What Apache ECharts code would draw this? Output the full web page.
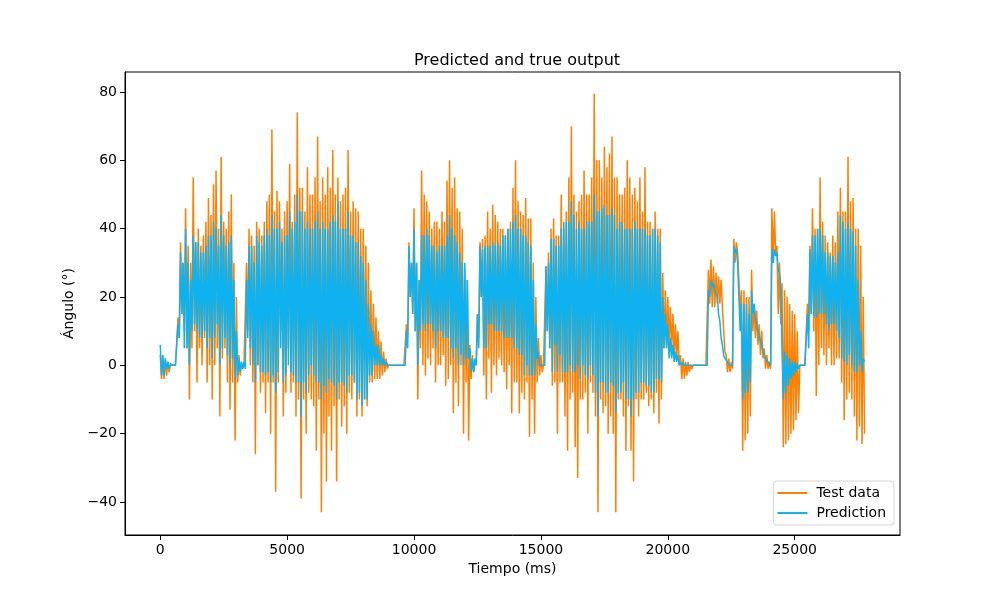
<!DOCTYPE html>
<html>
<head>
<meta charset="utf-8">
<script src="https://cdn.jsdelivr.net/npm/echarts@6/dist/echarts.min.js"></script>
<style>html,body{margin:0;padding:0;background:#fff;}#c{width:1000px;height:600px;}</style>
</head>
<body>
<div id="c"></div>
<script>
// Each 100 ms slot of the recording holds one upper and one lower swing
// of the fast oscillation (upper at the slot start, lower 50 ms later).
const slotMs = 100;

// Test data (true angle, degrees): upper swings
const testHigh = [
  3, 2, 2, 1, 0, 0, 0, 14, 36, 30,
  46, 35, 30, 55, 36, 40, 35, 38, 42, 49,
  44, 53, 57, 40, 61, 42, 40, 45, 50, 30,
  20, 3, 1, 0, 30, 40, 38, 35, 42, 40,
  38, 42, 48, 50, 69, 45, 51, 48, 40, 45,
  48, 59, 42, 50, 74, 52, 52, 45, 58, 50,
  50, 55, 67, 48, 55, 50, 58, 52, 63, 50,
  55, 48, 50, 52, 63, 45, 48, 46, 45, 40,
  40, 35, 30, 22, 18, 14, 10, 7, 4, 2,
  0, 0, 0, 0, 0, 0, 0, 12, 36, 30,
  46, 30, 25, 57, 50, 48, 45, 40, 42, 42,
  40, 45, 42, 54, 60, 52, 55, 46, 45, 40,
  28, 25, 6, 3, 1, 15, 36, 37, 38, 45,
  40, 47, 44, 42, 40, 40, 38, 40, 42, 52,
  60, 48, 45, 44, 49, 43, 43, 30, 20, 8,
  3, 0, 29, 33, 40, 43, 38, 38, 50, 40,
  45, 55, 70, 50, 45, 48, 50, 57, 50, 50,
  55, 79.5, 60, 60, 55, 64, 58, 62, 67, 55,
  55, 50, 50, 52, 60, 55, 50, 52, 48, 55,
  45, 58, 42, 42, 40, 45, 40, 40, 27, 22,
  20, 17, 15, 12, 10, 3, 2, 1, 1, 0,
  0, 0, 0, 0, 0, 0, 28, 31, 29, 27,
  26, 25, 10, 3, 2, 1, 37, 36, 25, 22,
  22, 20, 20, 28, 18, 16, 12, 10, 5, 3,
  1, 46, 45, 35, 30, 24, 22, 20, 18, 16,
  15, 10, 0, 0, 0, 18, 35, 46, 40, 40,
  55, 42, 38, 36, 33, 38, 36, 45, 52, 45,
  45, 61, 48, 49, 40, 40, 35, 20
];
// Test data: lower swings
const testLow = [
  -4, -4, -3, -2, 0, 0, 0, 8, 15, 10,
  5, -10, 5, 10, -5, 5, 0, 8, -5, 0,
  -10, 0, 5, -15, 2, 5, -5, -13, -5, -22,
  -5, -3, -1, 0, 10, 0, -5, -26, 0, -8,
  -5, -14, -5, -20, -5, -37, -5, 10, -15, -8,
  5, -8, -5, -15, -10, -39, -10, -20, -8, -10,
  -12, -25, -10, -43, -20, -34, -15, -25, -12, -34,
  -10, -18, -12, -20, -8, -10, -5, -15, -10, -15,
  -10, -12, -5, -5, -4, -4, -4, -3, -2, -1,
  0, 0, 0, 0, 0, 0, 0, 8, 20, 15,
  10, -10, 5, 0, -3, 2, 0, 5, -5, 0,
  0, 3, -6, -4, 0, -14, -5, -12, 0, -20,
  -5, -22, -4, -2, 0, 8, 20, -3, -10, 2,
  -8, 0, -3, 2, 0, -2, -7, 0, -14, -5,
  -5, -14, -8, -10, -5, -21, -10, -20, -5, -3,
  -2, 0, 10, 5, -6, -5, -20, -5, -5, -15,
  -25, -10, -8, -24, -33, -10, -10, -8, -20, -5,
  -8, -15, -43, -10, -14, -12, -20, -15, -20, -43,
  -10, -10, -15, -25, -12, -25, -34, -10, -15, -10,
  -10, -8, -12, -10, -14, -8, -17, -10, 5, 5,
  5, 5, 2, 2, 0, -4, -4, -3, -2, -1,
  0, 0, 0, 0, 0, 0, 18, 17, 17, 18,
  18, 17, 4, -2, -2, -1, 30, 33, 15, -25,
  -22, -20, -15, 10, 8, 6, 3, 2, -1, -1,
  -1, 30, 32, 15, 12, -24, -23, -22, -20, -19,
  -16, -14, 0, 0, 0, 10, 15, 10, -9, 0,
  5, 3, 0, 5, 0, 0, 2, 2, -5, -16,
  -10, -8, -10, -15, -22, -18, -23, -20
];

// Prediction (model output, degrees): upper swings
const predHigh = [
  6, 3, 2, 1, 0.5, 0, 0, 12, 33, 30,
  40, 30, 25, 38, 36, 36, 33, 33, 35, 38,
  38, 42, 40, 35, 44, 38, 35, 36, 38, 25,
  10, 2, 1, 1, 25, 35, 35, 30, 38, 36,
  35, 38, 40, 38, 44, 40, 40, 42, 36, 38,
  38, 45, 40, 42, 50, 45, 45, 40, 42, 40,
  40, 42, 45, 40, 42, 40, 40, 42, 44, 42,
  48, 40, 40, 40, 45, 38, 38, 36, 36, 32,
  30, 25, 18, 12, 10, 6, 6, 3, 2, 1,
  0, 0, 0, 0, 0, 0, 0, 10, 35, 30,
  40, 30, 25, 38, 38, 40, 38, 35, 35, 33,
  35, 35, 35, 38, 44, 40, 38, 36, 33, 30,
  30, 25, 5, 2, 2, 15, 35, 34, 35, 35,
  35, 36, 35, 36, 35, 38, 38, 40, 40, 42,
  44, 40, 40, 38, 38, 36, 35, 25, 12, 4,
  0, 0, 29, 30, 37, 37, 35, 35, 40, 42,
  42, 42, 48, 44, 40, 42, 40, 40, 42, 42,
  42, 50, 45, 45, 46, 47, 44, 44, 46, 44,
  40, 42, 42, 40, 40, 40, 40, 42, 40, 40,
  40, 40, 38, 38, 40, 40, 38, 36, 20, 15,
  12, 8, 6, 4, 3, 1, 1, 0, 0, 0,
  0, 0, 0, 0, 0, 0, 22, 25, 24, 22,
  15, 8, 3, 2, 1, 0.5, 35, 34, 20, 18,
  18, 18, 15, 22, 18, 14, 10, 6, 3, 2,
  1, 34, 34, 33, 27, 5, 4, 3, 2, 1,
  1, 0.5, 0, 0, 0, 15, 34, 38, 38, 40,
  40, 38, 33, 33, 32, 32, 30, 33, 44, 42,
  40, 42, 40, 39, 35, 25, 10, 2
];
// Prediction: lower swings
const predLow = [
  -3, -3, -1, -1, 0, 0, 0, 8, 15, 5,
  5, 0, 10, 12, 10, 8, 8, 10, 5, 8,
  2, 8, 12, 0, 5, 8, 3, 0, 2, -4,
  -3, -2, -1, -1, 8, 5, 0, -5, 0, -2,
  -2, -3, -2, -5, -3, -8, -2, 5, -5, -3,
  0, -2, -3, -5, -5, -15, -5, -8, -3, 0,
  -3, -5, -5, -10, -6, -8, -4, -5, -6, -10,
  -5, -5, -6, -8, -3, -3, -5, -10, -8, -12,
  -10, -10, -3, -3, 0, 0, 0, 0, 0, 0,
  0, 0, 0, 0, 0, 0, 0, 5, 20, 15,
  10, 0, 10, 12, 10, 12, 12, 10, 5, 10,
  10, 8, 8, 8, 5, 2, 5, 0, 3, 0,
  2, 2, -2, -2, 0, 5, 20, 5, 5, 12,
  12, 10, 10, 10, 10, 8, 8, 8, 8, 5,
  5, 3, 3, -3, 0, -3, -3, -3, 2, 0,
  0, 0, 10, 5, -2, 6, -2, 3, -2, -2,
  -2, 0, -2, -2, 0, -4, 0, -3, -4, 0,
  -3, -8, -15, -5, -5, -8, -8, -5, -6, -14,
  -8, -8, -5, -10, -10, -15, -10, -8, -8, -5,
  -5, -6, -6, -8, -8, -4, -4, -5, 5, 5,
  2, 2, 1, 1, 0, 0, 0, 0, 0, 0,
  0, 0, 0, 0, 0, 0, 20, 23, 22, 20,
  13, 6, 2, 1, 0, 0, 33, 30, 10, -10,
  -8, -8, -5, 15, 14, 10, 7, 4, 2, 1,
  0, 30, 32, 28, 23, -10, -8, -6, -4, -3,
  -2, -1, 0, 0, 0, 5, 15, 14, 14, 15,
  15, 15, 12, 10, 12, 12, 10, 8, 2, 1,
  0, 3, 0, -2, -2, 0, -2, 1
];

// Tick labels
const xTicks = [0, 5000, 10000, 15000, 20000, 25000];
const yTicks = [-40, -20, 0, 20, 40, 60, 80];

const seriesNames = ['Test data', 'Prediction'];

function swingPoints(high, low) {
  const pts = [];
  for (let i = 0; i < high.length; i++) {
    pts.push([i * slotMs, high[i]]);
    pts.push([i * slotMs + slotMs / 2, low[i]]);
  }
  return pts;
}

const fmt = v => String(v).replace('-', '\u2212');
const font = 'DejaVu Sans';
const orange = '#ff7f00';
const blue = '#0fb2ee';

const chart = echarts.init(document.getElementById('c'), null, {renderer: 'canvas'});
chart.setOption({
  animation: false,
  backgroundColor: '#fff',
  title: {
    text: 'Predicted and true output',
    left: 512, top: 48, textAlign: 'center',
    textStyle: {fontFamily: font, fontSize: 16, fontWeight: 'normal', color: '#000'}
  },
  grid: {left: 125, right: 100, top: 72, bottom: 65, show: true, borderColor: '#000', borderWidth: 1, backgroundColor: 'transparent'},
  legend: {
    orient: 'vertical', right: 106, top: 481,
    data: [{name: seriesNames[0], icon: 'rect'}, {name: seriesNames[1], icon: 'rect'}],
    itemWidth: 30, itemHeight: 2, itemGap: 6,
    padding: [5, 8, 5, 4],
    borderColor: '#d5d5d5', borderWidth: 1, borderRadius: 3,
    backgroundColor: 'rgba(255,255,255,0.8)',
    textStyle: {fontFamily: font, fontSize: 14, color: '#000', padding: [0, 0, 0, 4]}
  },
  xAxis: {
    type: 'value', min: -1388, max: 29148,
    name: 'Tiempo (ms)', nameLocation: 'middle', nameGap: 26,
    nameTextStyle: {fontFamily: font, fontSize: 14, color: '#000'},
    axisLine: {show: true, onZero: false, lineStyle: {color: '#000', width: 1}},
    axisTick: {show: true, inside: false, length: 5, customValues: xTicks, lineStyle: {color: '#000'}},
    axisLabel: {customValues: xTicks, formatter: fmt, fontFamily: font, fontSize: 14, color: '#000', margin: 8},
    splitLine: {show: false}
  },
  yAxis: {
    type: 'value', min: -49.66, max: 85.85,
    name: 'Ángulo (°)', nameLocation: 'middle', nameGap: 37,
    nameTextStyle: {fontFamily: font, fontSize: 14, color: '#000'},
    axisLine: {show: true, onZero: false, lineStyle: {color: '#000', width: 1}},
    axisTick: {show: true, inside: false, length: 5, customValues: yTicks, lineStyle: {color: '#000'}},
    axisLabel: {customValues: yTicks, formatter: fmt, fontFamily: font, fontSize: 14, color: '#000', margin: 8},
    splitLine: {show: false}
  },
  series: [
    {
      name: seriesNames[0], type: 'line', symbol: 'none', showSymbol: false, sampling: null,
      data: swingPoints(testHigh, testLow),
      lineStyle: {color: orange, width: 1.5}, itemStyle: {color: orange}, z: 2
    },
    {
      name: seriesNames[1], type: 'line', symbol: 'none', showSymbol: false, sampling: null,
      data: swingPoints(predHigh, predLow),
      lineStyle: {color: blue, width: 1.5}, itemStyle: {color: blue}, z: 3
    }
  ]
});
</script>
</body>
</html>
